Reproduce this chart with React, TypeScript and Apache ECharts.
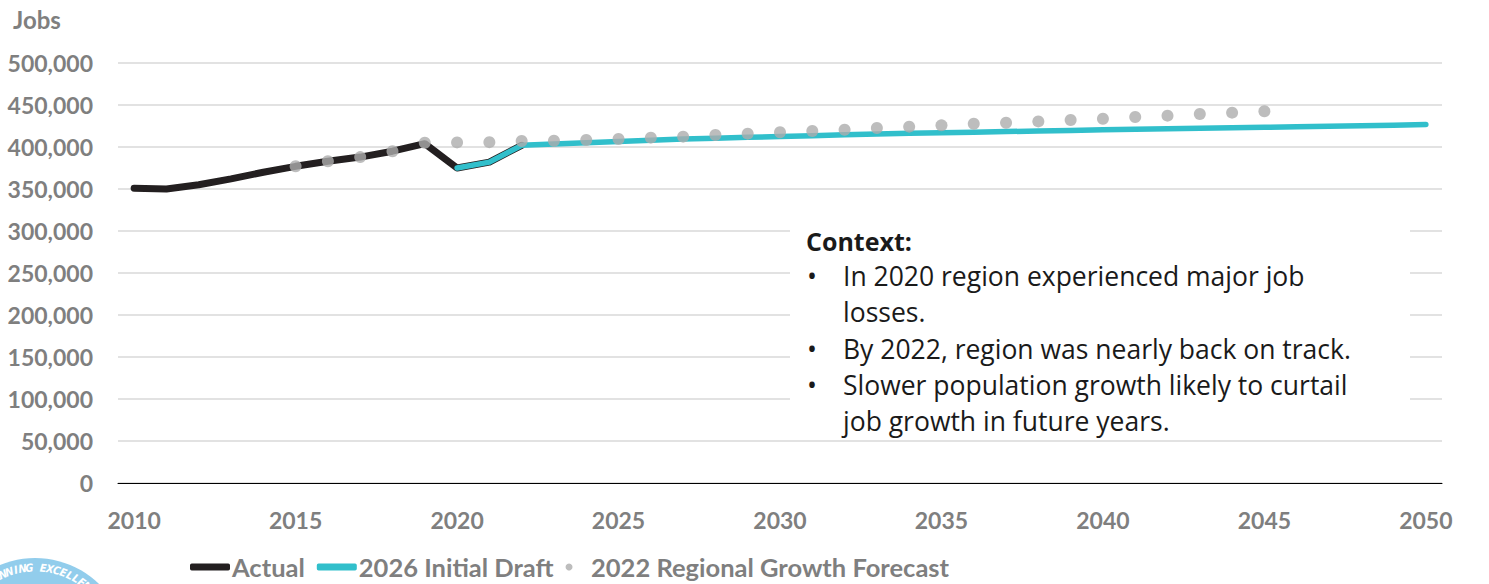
import React, { useEffect, useRef } from "react";
import * as echarts from "echarts";

const years: string[] = [];
for (let y = 2010; y <= 2050; y++) years.push(String(y));

const actualStart = 2010;
const actualValues = [351000, 350000, 355000, 362000, 370000, 377000, 383000, 388000, 395000, 404000, 375000, 382000, 402000];

const draftStart = 2020;
const draftValues = [
  375000, 382000, 402000, 403500, 405000, 406500, 408000, 409500, 410500, 411500,
  412500, 413500, 414500, 415500, 416500, 417000, 417700, 418400, 419000, 419700,
  420400, 421000, 421600, 422200, 422800, 423400, 424000, 424700, 425400, 426000, 426700,
];

const forecastStart = 2015;
const forecastValues = [
  377000, 383000, 388000, 395000, 405000, 405500, 405800, 407100, 407500, 408300,
  409500, 411100, 412300, 414300, 415900, 417500, 419000, 420600, 422600, 424200,
  425800, 427600, 428900, 430500, 432100, 433700, 435700, 437300, 439300, 440900, 442500,
];

const yTicks = [0, 50000, 100000, 150000, 200000, 250000, 300000, 350000, 400000, 450000, 500000];

const contextTitle = "Context:";
const contextLines = [
  { bullet: true, text: "In 2020 region experienced major job" },
  { bullet: false, text: "losses." },
  { bullet: true, text: "By 2022, region was nearly back on track." },
  { bullet: true, text: "Slower population growth likely to curtail" },
  { bullet: false, text: "job growth in future years." },
];

const logoText = "PLANNING EXCELLENCE";

function align(start: number, values: number[]): (number | string)[] {
  return years.map((y) => {
    const i = Number(y) - start;
    return i >= 0 && i < values.length ? values[i] : "-";
  });
}

const GRAY = "#7f7f7f";
const FONT = "Lato, 'Noto Sans', sans-serif";
const CTX_FONT = "'Open Sans', Lato, sans-serif";

export default function App() {
  const ref = useRef<HTMLDivElement>(null);
  useEffect(() => {
    if (!ref.current) return;
    const chart = echarts.init(ref.current, undefined, { renderer: "svg" });

    const logoChars: any[] = [];
    const cx = 35, cy = 650, R = 82;
    const step = 4.8;
    const startDeg = -37.5;
    for (let i = 0; i < logoText.length; i++) {
      const deg = startDeg + i * step;
      const th = (deg * Math.PI) / 180;
      logoChars.push({
        type: "text",
        x: cx + R * Math.sin(th),
        y: cy - R * Math.cos(th),
        rotation: -th,
        z: 11,
        style: {
          text: logoText[i],
          fill: "#ffffff",
          font: "italic bold 11px 'DejaVu Sans Condensed', sans-serif",
          align: "center",
          verticalAlign: "middle",
        },
      });
    }

    const ctxEls: any[] = [
      {
        type: "rect",
        z: 10,
        shape: { x: 790, y: 222, width: 620, height: 215 },
        style: { fill: "#ffffff" },
      },
      {
        type: "text",
        z: 11,
        x: 806,
        y: 241,
        style: {
          text: contextTitle,
          fill: "#1a1a1a",
          font: `bold 25px ${CTX_FONT}`,
          verticalAlign: "middle",
        },
      },
    ];
    contextLines.forEach((l, i) => {
      const y = 276 + i * 36.3;
      if (l.bullet) {
        ctxEls.push({
          type: "text",
          z: 11,
          x: 807,
          y,
          style: { text: "•", fill: "#1a1a1a", font: `26.5px ${CTX_FONT}`, verticalAlign: "middle" },
        });
      }
      ctxEls.push({
        type: "text",
        z: 11,
        x: 843,
        y,
        style: { text: l.text, fill: "#1a1a1a", font: `26.5px ${CTX_FONT}`, verticalAlign: "middle" },
      });
    });

    chart.setOption({
      animation: false,
      backgroundColor: "#ffffff",
      textStyle: { fontFamily: FONT },
      grid: { left: 118, right: 47, top: 63, bottom: 101, containLabel: false },
      legend: {
        left: 185,
        top: 549,
        itemGap: 12,
        itemWidth: 40,
        itemHeight: 7,
        textStyle: { color: GRAY, fontSize: 25.5, fontWeight: "bold", fontFamily: FONT, padding: [0, 0, 0, -3] },
        data: [
          { name: "Actual", icon: "roundRect" },
          { name: "2026 Initial Draft", icon: "roundRect" },
          { name: "2022 Regional Growth Forecast", icon: "circle" },
        ],
      },
      xAxis: {
        type: "category",
        data: years,
        boundaryGap: true,
        axisLine: { lineStyle: { color: "#000000", width: 1 } },
        axisTick: { show: false },
        axisLabel: {
          interval: 4,
          color: GRAY,
          fontSize: 23,
          fontWeight: "bold",
          fontFamily: FONT,
          margin: 25,
        },
      },
      yAxis: {
        type: "value",
        min: 0,
        max: 500000,
        interval: 50000,
        axisLine: { show: false },
        axisTick: { show: false },
        splitLine: { lineStyle: { color: "#d9d9d9", width: 1.5 } },
        axisLabel: {
          color: GRAY,
          fontSize: 23,
          fontWeight: "bold",
          fontFamily: FONT,
          margin: 25,
          formatter: (v: number) => (yTicks.includes(v) ? v.toLocaleString("en-US") : ""),
        },
      },
      series: [
        {
          name: "Actual",
          type: "line",
          data: align(actualStart, actualValues),
          showSymbol: false,
          symbol: "none",
          color: "#231f20",
          lineStyle: { color: "#231f20", width: 7, cap: "round", join: "round" },
          z: 2,
        },
        {
          name: "2026 Initial Draft",
          type: "line",
          data: align(draftStart, draftValues),
          showSymbol: false,
          symbol: "none",
          color: "#31bfcb",
          lineStyle: { color: "#31bfcb", width: 5.5, cap: "round", join: "round" },
          z: 3,
        },
        {
          name: "2022 Regional Growth Forecast",
          type: "scatter",
          data: align(forecastStart, forecastValues),
          symbol: "circle",
          symbolSize: 12,
          color: "#adadad",
          itemStyle: { color: "#adadad" },
          z: 4,
        },
      ],
      graphic: [
        {
          type: "text",
          x: 13,
          y: 19,
          style: { text: "Jobs", fill: GRAY, font: `bold 24px ${FONT}`, verticalAlign: "middle" },
        },
        ...ctxEls,
        {
          type: "circle",
          z: 10,
          shape: { cx, cy, r: 92 },
          style: { fill: "#92cdec" },
        },
        ...logoChars,
      ],
    });
    return () => chart.dispose();
  }, []);
  return (
    <div
      ref={ref}
      style={{ position: "fixed", left: 0, top: 0, width: 1489, height: 584 }}
    />
  );
}
